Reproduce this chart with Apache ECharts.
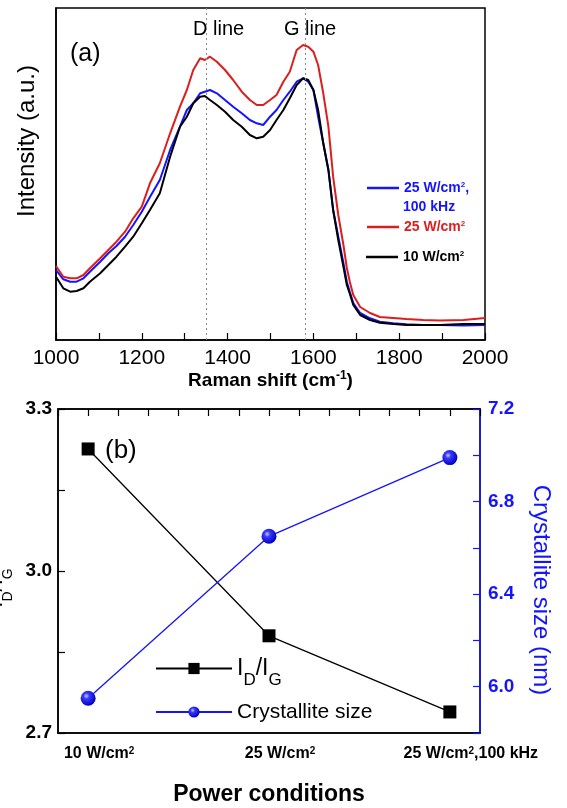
<!DOCTYPE html>
<html>
<head>
<meta charset="utf-8">
<script src="https://cdn.jsdelivr.net/npm/echarts@6/dist/echarts.min.js"></script>
<style>
html,body{margin:0;padding:0;background:#fff;}
#chart{width:567px;height:808px;}
</style>
</head>
<body>
<div id="chart"></div>
<script>
// ---- Panel (a): Raman spectra ----
const ramanShift = [1000,1017,1033,1048,1064,1079,1103,1122,1141,1161,1180,1200,1219,1242,1266,1289,1305,1320,1336,1347,1359,1375,1394,1413,1433,1452,1468,1483,1499,1514,1530,1545,1561,1576,1588,1600,1611,1623,1635,1646,1658,1670,1678,1685,1693,1709,1732,1755,1786,1817,1856,1895,1950,2000];
const int25W100k = [70,60.7,58.3,58.3,61.7,68.3,78.3,86.7,94,103.3,115,128.3,143,160,190,213.3,230,236.7,246.7,248.3,250,246.7,240,233.3,226.7,220,216.7,215,223.3,230,240,248.3,258.3,261.7,258.3,250,223.3,196.7,170,130,103.3,76.7,58,48,37,27,21.7,18.3,16.7,15.7,15,15,14.5,15];
const int25W = [74,63.3,61.7,61.7,65,71.7,81.7,90,98.3,108.3,121.7,133.3,156.7,176.7,206.7,233.3,250,270,281.7,280,283.3,278.3,270,260,248.3,240,235,235,240,245,258.3,268.3,290,295,293.3,288.3,275,246.7,213.3,163.3,125,95,72,58,45,33,27,23,22,21,20,19.5,20,22];
const int10W = [63.3,51.7,48.3,49,51.7,58.3,66.7,75,83.3,93.3,103.3,116.7,130,146.7,183.3,213.3,223.3,236.7,243.3,244,240,235,228.3,220,213.3,205,201.7,203.3,210,220,230,241.7,255,261.7,260,250,230,196.7,170,130,100,73.3,55,46,35,25,20,17.3,16,15,15,15,16,16];
const peakLines = [1350, 1582];
const peakNames = ['D line', 'G line'];

// ---- Panel (b): power conditions ----
const categories = ['10 W/cm²', '25 W/cm²', '25 W/cm²,100 kHz'];
const idIg = [3.226, 2.880, 2.739];
const crystalliteSize = [5.95, 6.65, 6.99];
const SUB = 6; // sub-divisions between categories on the value axis

const FONT = '"Liberation Sans", Arial, sans-serif';
const BLUE = '#1414ff';
const RED = '#dc1e1e';

const chart = echarts.init(document.getElementById('chart'), null, {renderer: 'canvas'});

function supRich(color, size) {
  return {
    b: {fontFamily: FONT, fontWeight: 'bold', fontSize: size, color: color, lineHeight: size, verticalAlign: 'bottom'},
    s: {fontFamily: FONT, fontWeight: 'bold', fontSize: Math.round(size * 0.6), color: color, lineHeight: size, verticalAlign: 'top'},
    p1: {width: 22}, p3: {width: 42}
  };
}

const ballColor = new echarts.graphic.RadialGradient(0.38, 0.35, 0.65, [
  {offset: 0, color: '#c8ccff'},
  {offset: 0.3, color: '#3a3aff'},
  {offset: 1, color: '#0000c0'}
]);

const lineIcon = 'rect';

const option = {
  animation: false,
  backgroundColor: '#fff',
  textStyle: {fontFamily: FONT},
  grid: [
    {left: 56, top: 8, width: 429, height: 332, show: true, borderColor: '#000', borderWidth: 1.5},
    {left: 58, top: 409, width: 422, height: 324, show: true, borderColor: '#000', borderWidth: 1.5}
  ],
  xAxis: [
    {
      gridIndex: 0, type: 'value', min: 1000, max: 2000, interval: 100,
      axisLine: {onZero: false, lineStyle: {color: '#000', width: 1.5}},
      axisTick: {inside: true, length: 7, lineStyle: {color: '#000', width: 1.2}},
      axisLabel: {fontSize: 21, color: '#000', margin: 8, fontFamily: FONT,
        formatter: v => (v % 200 === 0 ? String(v) : '')},
      splitLine: {show: false},
      name: '{b|Raman shift (cm}{s|-1}{b|)}',
      nameLocation: 'middle', nameGap: 30,
      nameTextStyle: {rich: {
        b: {fontFamily: FONT, fontWeight: 'bold', fontSize: 19, color: '#000', lineHeight: 20, verticalAlign: 'bottom'},
        s: {fontFamily: FONT, fontWeight: 'bold', fontSize: 12, color: '#000', lineHeight: 20, verticalAlign: 'top'}
      }}
    },
    {
      gridIndex: 1, type: 'value', min: -1, max: 2 * SUB + 1, interval: 1,
      axisLine: {onZero: false, lineStyle: {color: '#000', width: 1.5}},
      axisTick: {show: false},
      axisLabel: {margin: 13, fontFamily: FONT,
        formatter: v => {
          if (v % SUB !== 0) return '';
          const i = v / SUB;
          const parts = categories[i].split('²');
          const pad = i === 2 ? '{p3|}' : '{p1|}';
          return pad + '{b|' + parts[0] + '}{s|2}' + (parts[1] ? '{b|' + parts[1] + '}' : '');
        },
        rich: supRich('#000', 16)
      },
      splitLine: {show: false},
      name: 'Power conditions', nameLocation: 'middle', nameGap: 50,
      nameTextStyle: {fontFamily: FONT, fontWeight: 'bold', fontSize: 23, color: '#000'}
    },
    {
      gridIndex: 1, type: 'value', position: 'top', min: -1, max: 2 * SUB + 1, interval: 1,
      axisLine: {onZero: false, lineStyle: {color: '#000', width: 1.5}},
      axisTick: {inside: true, length: 7, lineStyle: {color: '#000', width: 1.2}},
      axisLabel: {show: false}, splitLine: {show: false}
    }
  ],
  yAxis: [
    {
      gridIndex: 0, type: 'value', min: 0, max: 332,
      axisLine: {show: true, onZero: false, lineStyle: {color: '#000', width: 1.5}},
      axisTick: {show: false}, axisLabel: {show: false}, splitLine: {show: false}
    },
    {
      gridIndex: 1, type: 'value', position: 'left', min: 2.7, max: 3.3, interval: 0.15,
      axisLine: {show: true, onZero: false, lineStyle: {color: '#000', width: 1.5}},
      axisTick: {inside: true, length: 7, lineStyle: {color: '#000', width: 1.2}},
      axisLabel: {fontFamily: FONT, fontWeight: 'bold', fontSize: 19, color: '#000', margin: 6,
        formatter: v => (Math.round(v * 100) % 30 === 0 ? v.toFixed(1) : '')},
      splitLine: {show: false}
    },
    {
      gridIndex: 1, type: 'value', position: 'right', min: 5.8, max: 7.2, interval: 0.2,
      axisLine: {show: true, onZero: false, lineStyle: {color: BLUE, width: 1.5}},
      axisTick: {inside: true, length: 7, lineStyle: {color: BLUE, width: 1.2}},
      axisLabel: {fontFamily: FONT, fontWeight: 'bold', fontSize: 19, color: BLUE, margin: 8,
        formatter: v => (Math.round(v * 10) % 4 === 0 ? v.toFixed(1) : '')},
      splitLine: {show: false}
    }
  ],
  legend: [
    {data: ['25 W/cm2, 100 kHz'], left: 367, top: 181, padding: 0, itemWidth: 32, itemHeight: 2.5, icon: lineIcon,
      formatter: () => '{b|25 W/cm}{s|2}{b|,}', textStyle: {rich: supRich(BLUE, 14)}},
    {data: ['25 W/cm2'], left: 367, top: 220, padding: 0, itemWidth: 32, itemHeight: 2.5, icon: lineIcon,
      formatter: () => '{b|25 W/cm}{s|2}', textStyle: {rich: supRich(RED, 14)}},
    {data: ['10 W/cm2'], left: 366, top: 250, padding: 0, itemWidth: 32, itemHeight: 2.5, icon: lineIcon,
      formatter: () => '{b|10 W/cm}{s|2}', textStyle: {rich: supRich('#000', 14)}},
    {data: ['ID/IG'], left: 155, top: 657, padding: 0, itemWidth: 76, itemHeight: 14,
      formatter: () => '{m|I}{s|D}{m|/I}{s|G}',
      textStyle: {rich: {
        m: {fontFamily: FONT, fontSize: 23, color: '#000', lineHeight: 40, verticalAlign: 'middle'},
        s: {fontFamily: FONT, fontSize: 17, color: '#000', lineHeight: 17, verticalAlign: 'bottom'}
      }}},
    {data: ['Crystallite size'], left: 155, top: 700, padding: 0, itemWidth: 76, itemHeight: 14,
      textStyle: {fontFamily: FONT, fontSize: 21, color: '#000', lineHeight: 24}}
  ],
  series: [
    {
      name: '25 W/cm2, 100 kHz', type: 'line', xAxisIndex: 0, yAxisIndex: 0, symbol: 'none',
      color: BLUE, lineStyle: {width: 2, color: BLUE},
      data: ramanShift.map((x, i) => [x, int25W100k[i]])
    },
    {
      name: '25 W/cm2', type: 'line', xAxisIndex: 0, yAxisIndex: 0, symbol: 'none',
      color: RED, lineStyle: {width: 2, color: RED},
      data: ramanShift.map((x, i) => [x, int25W[i]])
    },
    {
      name: '10 W/cm2', type: 'line', xAxisIndex: 0, yAxisIndex: 0, symbol: 'none',
      color: '#000', lineStyle: {width: 2, color: '#000'},
      data: ramanShift.map((x, i) => [x, int10W[i]]),
      markLine: {
        silent: true, symbol: 'none', animation: false,
        lineStyle: {type: [2, 3], color: '#8a8a8a', width: 1},
        label: {show: false},
        data: peakLines.map(x => ({xAxis: x}))
      }
    },
    {
      name: 'ID/IG', type: 'line', xAxisIndex: 1, yAxisIndex: 1,
      symbol: 'rect', symbolSize: 13, color: '#000',
      itemStyle: {color: '#000'}, lineStyle: {width: 1.3, color: '#000'},
      data: categories.map((c, i) => [i * SUB, idIg[i]])
    },
    {
      name: 'Crystallite size', type: 'line', xAxisIndex: 1, yAxisIndex: 2,
      symbol: 'circle', symbolSize: 15, color: BLUE,
      itemStyle: {color: ballColor}, lineStyle: {width: 1.3, color: BLUE},
      data: categories.map((c, i) => [i * SUB, crystalliteSize[i]])
    }
  ],
  graphic: [
    {type: 'text', left: 70, top: 42, style: {text: '(a)', fontFamily: FONT, fontSize: 25, fill: '#000'}},
    {type: 'text', left: 193, top: 19, style: {text: peakNames[0], fontFamily: FONT, fontSize: 20, fill: '#000'}},
    {type: 'text', left: 284, top: 19, style: {text: peakNames[1], fontFamily: FONT, fontSize: 20, fill: '#000'}},
    {type: 'text', left: 403, top: 200, style: {text: '100 kHz', fontFamily: FONT, fontWeight: 'bold', fontSize: 14, fill: BLUE}},
    {type: 'text', x: 27, y: 141, rotation: Math.PI / 2,
      style: {text: 'Intensity (a.u.)', fontFamily: FONT, fontSize: 24, fill: '#000', align: 'center', verticalAlign: 'middle'}},
    {type: 'text', left: 105, top: 438, style: {text: '(b)', fontFamily: FONT, fontSize: 26, fill: '#000'}},
    {type: 'text', x: 0, y: 588, rotation: Math.PI / 2,
      style: {
        text: '{m|I}{s|D}{m|/I}{s|G}', align: 'center', verticalAlign: 'middle',
        rich: {
          m: {fontFamily: FONT, fontSize: 22, fill: '#000', lineHeight: 30, verticalAlign: 'top'},
          s: {fontFamily: FONT, fontSize: 14, fill: '#000', lineHeight: 30, verticalAlign: 'bottom'}
        }
      }},
    {type: 'text', x: 541, y: 590, rotation: -Math.PI / 2,
      style: {text: 'Crystallite size (nm)', fontFamily: FONT, fontSize: 24, fill: BLUE, align: 'center', verticalAlign: 'middle'}}
  ]
};
chart.setOption(option);
</script>
</body>
</html>
